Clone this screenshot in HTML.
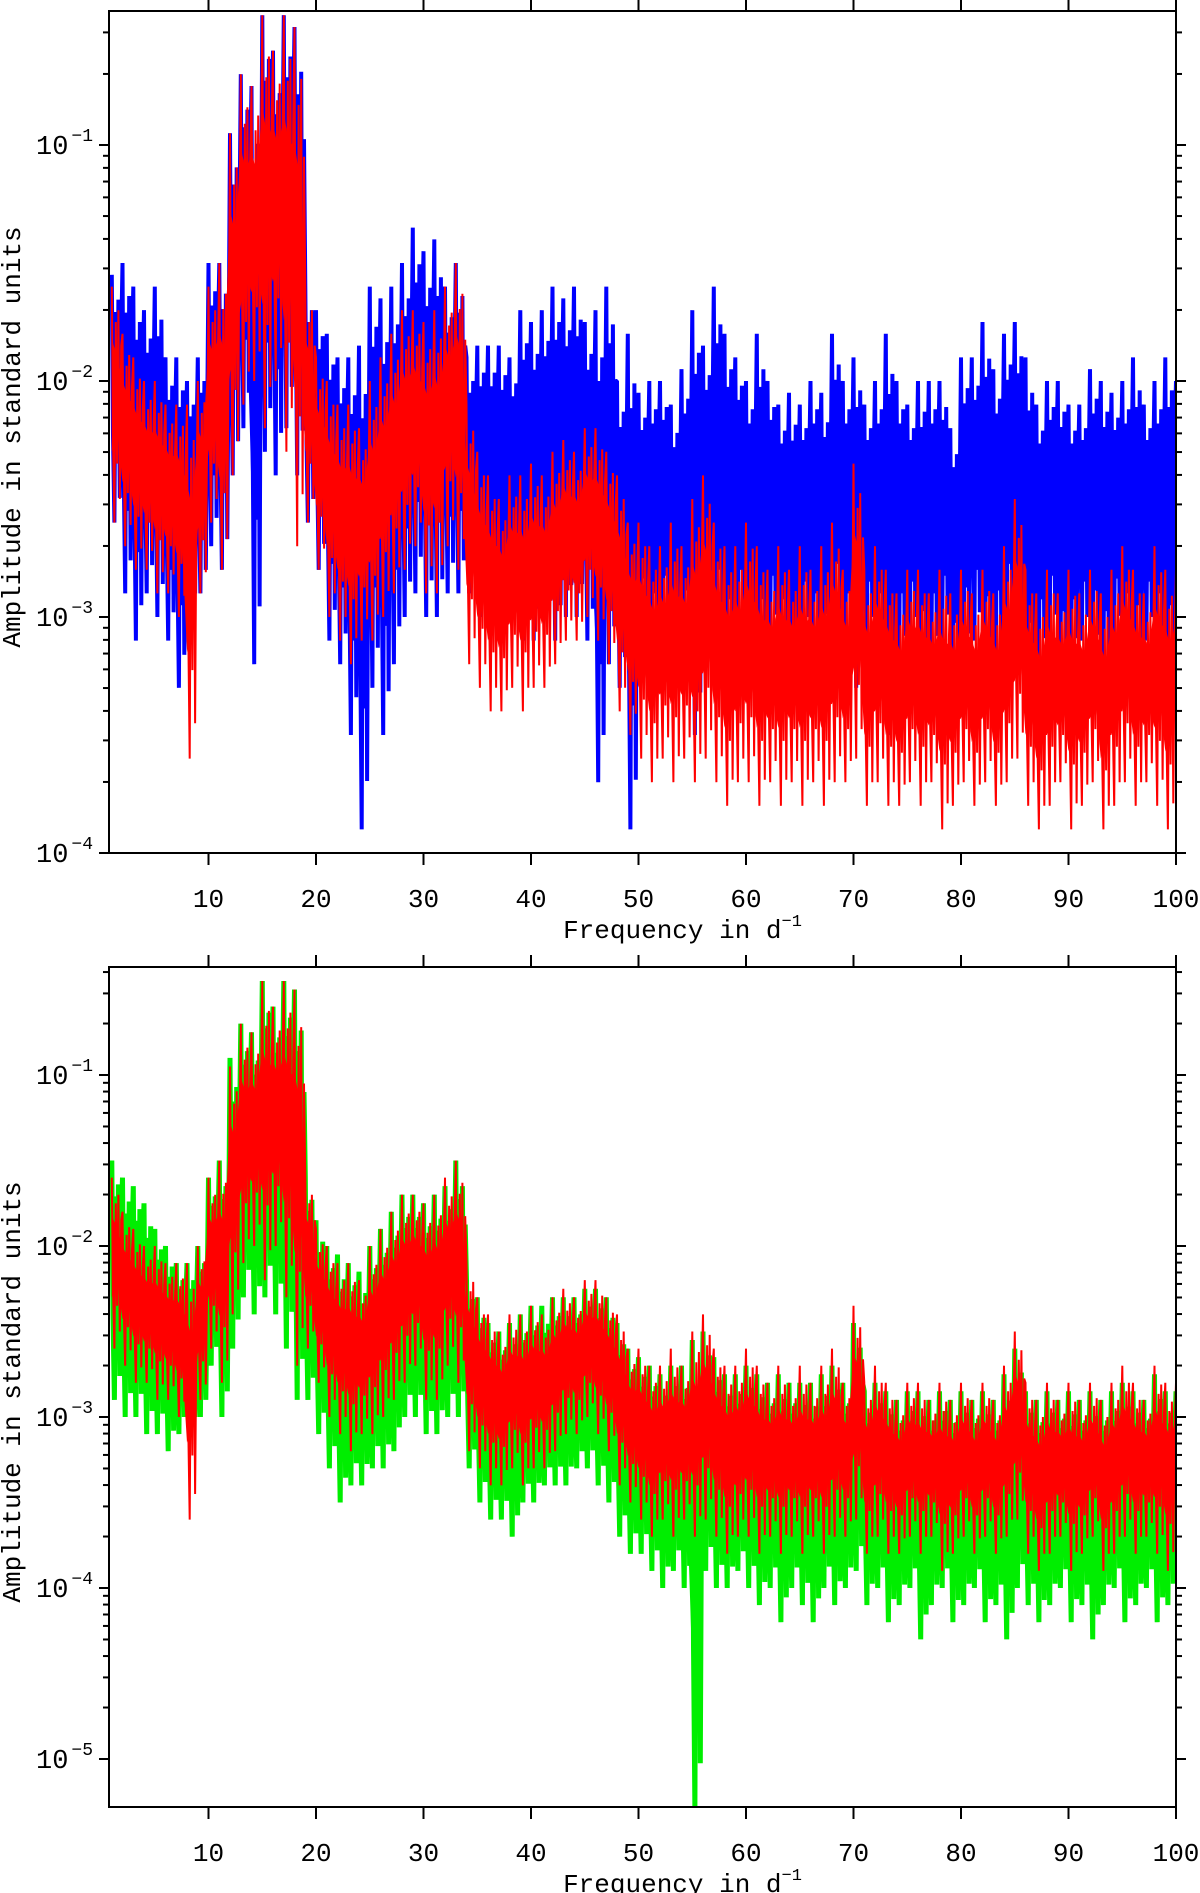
<!DOCTYPE html>
<html><head><meta charset="utf-8"><style>
html,body{margin:0;padding:0;background:#fff;}
svg{display:block;}
text{font-family:"Liberation Mono","DejaVu Sans Mono",monospace;fill:#000;}
</style></head>
<body>
<svg id="chart" width="1200" height="1893" viewBox="0 0 1200 1893" xmlns="http://www.w3.org/2000/svg">
<defs>
<clipPath id="clipTop"><rect x="109" y="11" width="1067" height="842"/></clipPath>
<clipPath id="clipBot"><rect x="109" y="967" width="1067" height="840"/></clipPath>
</defs>
</svg>
<script>
// frequencies 1..100 (d^-1), values as log10(amplitude)
const freqs = Array.from({length:100},(_,i)=>i+1);
const xTicks = [10,20,30,40,50,60,70,80,90,100];
const topDecades = [-1,-2,-3,-4];
const botDecades = [-1,-2,-3,-4,-5];

const redHi = [
-1.6,-1.8,-1.9,-2.0,-2.0,-2.1,-2.1,-2.1,-2.0,-1.6,
-1.5,-0.95,-0.7,-0.75,-0.45,-0.6,-0.45,-0.5,-1.6,-1.9,
-2.0,-2.1,-2.1,-2.2,-2.0,-1.9,-1.8,-1.7,-1.7,-1.75,
-1.7,-1.6,-1.5,-2.1,-2.3,-2.4,-2.5,-2.4,-2.4,-2.35,
-2.4,-2.3,-2.25,-2.3,-2.2,-2.2,-2.3,-2.4,-2.6,-2.6,
-2.7,-2.7,-2.6,-2.7,-2.5,-2.4,-2.6,-2.7,-2.7,-2.6,
-2.7,-2.8,-2.7,-2.8,-2.7,-2.8,-2.7,-2.6,-2.8,-2.35,
-2.8,-2.7,-2.8,-2.9,-2.8,-2.8,-2.9,-2.8,-2.9,-2.8,
-2.9,-2.8,-2.9,-2.7,-2.5,-2.8,-2.9,-2.8,-2.9,-2.8,
-2.9,-2.8,-2.9,-2.8,-2.7,-2.8,-2.9,-2.7,-2.8,-2.8];
const redLo = [
-2.6,-2.7,-2.8,-2.8,-2.9,-2.9,-3.0,-3.6,-2.9,-2.6,
-2.8,-2.4,-2.1,-2.0,-2.2,-2.0,-2.3,-2.7,-2.6,-2.8,
-3.0,-3.1,-3.2,-3.1,-3.1,-3.0,-2.9,-2.8,-2.7,-2.9,
-2.9,-2.7,-2.8,-3.2,-3.3,-3.4,-3.4,-3.3,-3.4,-3.3,
-3.3,-3.2,-3.1,-3.1,-3.0,-3.1,-3.2,-3.4,-3.5,-3.6,
-3.7,-3.6,-3.7,-3.6,-3.7,-3.6,-3.7,-3.8,-3.7,-3.7,
-3.8,-3.7,-3.8,-3.7,-3.8,-3.7,-3.8,-3.7,-3.7,-3.6,
-3.8,-3.7,-3.8,-3.8,-3.7,-3.8,-3.7,-3.9,-3.8,-3.7,
-3.8,-3.7,-3.8,-3.7,-3.6,-3.8,-3.9,-3.8,-3.7,-3.9,
-3.8,-3.7,-3.9,-3.8,-3.7,-3.8,-3.7,-3.8,-3.9,-3.7];
const blueHi = [
-1.55,-1.5,-1.6,-1.7,-1.6,-1.9,-1.9,-2.0,-1.9,-1.5,
-1.5,-0.95,-0.7,-0.75,-0.45,-0.6,-0.45,-0.5,-1.6,-1.7,
-1.8,-1.9,-1.9,-1.85,-1.6,-1.65,-1.6,-1.5,-1.35,-1.45,
-1.4,-1.6,-1.5,-1.9,-1.85,-1.85,-1.85,-1.9,-1.7,-1.75,
-1.7,-1.6,-1.65,-1.6,-1.75,-1.7,-1.6,-2.0,-1.8,-2.05,
-2.0,-2.0,-2.1,-1.95,-1.7,-1.85,-1.6,-1.8,-1.9,-2.0,
-1.8,-2.0,-2.1,-2.05,-2.1,-2.0,-2.05,-1.8,-2.0,-1.9,
-2.1,-2.0,-1.8,-2.0,-2.1,-2.0,-2.0,-2.0,-2.2,-1.9,
-1.9,-1.75,-1.95,-1.8,-1.75,-1.9,-2.1,-2.0,-2.0,-2.1,
-2.1,-1.95,-2.0,-2.05,-2.0,-1.9,-2.1,-2.0,-1.9,-2.0];
const blueLo = [
-2.6,-2.9,-3.1,-2.9,-3.0,-3.1,-3.3,-3.0,-2.9,-2.7,
-2.8,-2.4,-2.2,-3.2,-2.3,-2.4,-2.2,-2.4,-2.6,-2.8,
-3.1,-3.2,-3.5,-3.9,-3.3,-3.5,-3.2,-3.0,-2.9,-3.0,
-3.0,-2.9,-2.9,-2.9,-3.0,-3.0,-3.1,-3.0,-3.1,-3.1,
-3.0,-3.1,-3.0,-3.0,-3.1,-3.7,-3.2,-3.3,-3.9,-3.1,
-3.2,-3.1,-3.3,-3.2,-3.5,-3.1,-3.2,-3.3,-3.1,-3.2,
-3.3,-3.1,-3.2,-3.4,-3.1,-3.2,-3.3,-3.1,-3.2,-3.3,
-3.1,-3.2,-3.5,-3.2,-3.1,-3.3,-3.2,-3.1,-3.3,-3.2,
-3.1,-3.3,-3.2,-3.1,-3.2,-3.4,-3.2,-3.1,-3.3,-3.2,
-3.1,-3.2,-3.3,-3.1,-3.2,-3.3,-3.1,-3.2,-3.3,-3.2];
const greenHi = [
-1.5,-1.6,-1.65,-1.75,-1.9,-2.0,-2.1,-2.1,-2.0,-1.6,
-1.5,-0.9,-0.7,-0.75,-0.45,-0.6,-0.45,-0.5,-1.6,-1.85,
-2.0,-2.05,-2.1,-2.15,-2.0,-1.9,-1.8,-1.7,-1.7,-1.75,
-1.7,-1.65,-1.5,-2.2,-2.3,-2.45,-2.5,-2.45,-2.4,-2.35,
-2.35,-2.3,-2.3,-2.3,-2.25,-2.25,-2.3,-2.45,-2.6,-2.65,
-2.7,-2.75,-2.7,-2.7,-2.55,-2.5,-2.65,-2.75,-2.75,-2.7,
-2.75,-2.8,-2.75,-2.8,-2.8,-2.8,-2.75,-2.7,-2.8,-2.45,
-2.85,-2.8,-2.85,-2.9,-2.85,-2.85,-2.9,-2.85,-2.9,-2.85,
-2.9,-2.85,-2.9,-2.75,-2.6,-2.85,-2.9,-2.85,-2.9,-2.85,
-2.9,-2.85,-2.9,-2.85,-2.8,-2.85,-2.9,-2.75,-2.85,-2.85];
const greenLo = [
-2.9,-3.0,-3.0,-3.1,-3.1,-3.2,-3.1,-3.1,-3.0,-2.7,
-3.0,-2.6,-2.3,-2.4,-2.3,-2.4,-2.6,-2.9,-2.9,-3.1,
-3.3,-3.5,-3.4,-3.4,-3.3,-3.3,-3.2,-3.0,-3.0,-3.1,
-3.1,-3.0,-3.0,-3.3,-3.5,-3.6,-3.6,-3.7,-3.5,-3.5,
-3.4,-3.4,-3.4,-3.3,-3.3,-3.4,-3.5,-3.7,-3.8,-3.8,
-3.9,-4.0,-3.9,-4.0,-5.3,-3.9,-4.0,-4.0,-3.9,-4.0,
-4.1,-4.0,-4.2,-4.0,-4.1,-4.2,-4.0,-4.1,-4.0,-3.9,
-4.1,-4.0,-4.2,-4.1,-4.0,-4.3,-4.1,-4.0,-4.2,-4.1,
-4.0,-4.2,-4.1,-4.3,-4.0,-4.1,-4.2,-4.1,-4.0,-4.2,
-4.1,-4.3,-4.1,-4.0,-4.2,-4.1,-4.0,-4.2,-4.1,-4.0];

const NS = "http://www.w3.org/2000/svg";
const svg = document.getElementById('chart');
const X0 = 109, X1 = 1176, FMAX = 100, PXF = 10.75;
function xs(f){ return X1 - (FMAX - f) * PXF; }
const panels = [
  {name:'top', yTop:11, yBot:853, y01:145, dec:236, decades:topDecades, clip:'clipTop',
   series:[{name:'blue',hi:blueHi,lo:blueLo,color:'#0000ff',w:4},{name:'red',hi:redHi,lo:redLo,color:'#ff0000',w:2}]},
  {name:'bottom', yTop:967, yBot:1807, y01:1075, dec:171, decades:botDecades, clip:'clipBot',
   series:[{name:'green',hi:greenHi,lo:greenLo,color:'#00ee00',w:5},{name:'red',hi:redHi,lo:redLo,color:'#ff0000',w:2}]}
];
function mk(tag, attrs, parent){
  const e = document.createElementNS(NS, tag);
  for (const k in attrs) e.setAttribute(k, attrs[k]);
  (parent||svg).appendChild(e);
  return e;
}
panels.forEach(p=>{
  const ys = v => p.y01 + (-1 - v) * p.dec;
  const g = mk('g', {});
  
  
  const plot = mk('g', {'clip-path':'url(#'+p.clip+')'}, g);
  
  
  p.series.forEach(s=>{
    // dense core band
    let pts = [];
    freqs.forEach((f,i)=>{
      const span = s.hi[i]-s.lo[i];
      pts.push(xs(f).toFixed(1)+','+ys(s.hi[i]-0.22*span).toFixed(1));
      pts.push(xs(f+0.5).toFixed(1)+','+ys(s.hi[i]-0.3*span).toFixed(1));
    });
    for (let i=freqs.length-1;i>=0;i--){
      const span = freqs.length && (s.hi[i]-s.lo[i]);
      pts.push(xs(freqs[i]+0.5).toFixed(1)+','+ys(s.lo[i]+0.4*span).toFixed(1));
      pts.push(xs(freqs[i]).toFixed(1)+','+ys(s.lo[i]+0.3*span).toFixed(1));
    }
    const band = mk('polygon', {points:pts.join(' '), fill:s.color}, plot);
    
    
    // spiky line reaching full extremes
    let zz = [];
    freqs.forEach((f,i)=>{
      const span = s.hi[i]-s.lo[i];
      zz.push(xs(f).toFixed(1)+','+ys(s.hi[i]).toFixed(1));
      zz.push(xs(f+0.12).toFixed(1)+','+ys(s.lo[i]+0.35*span).toFixed(1));
      zz.push(xs(f+0.25).toFixed(1)+','+ys(s.lo[i]).toFixed(1));
      zz.push(xs(f+0.38).toFixed(1)+','+ys(s.hi[i]-0.15*span).toFixed(1));
      zz.push(xs(f+0.5).toFixed(1)+','+ys(s.lo[i]+0.25*span).toFixed(1));
      zz.push(xs(f+0.62).toFixed(1)+','+ys(s.hi[i]-0.1*span).toFixed(1));
      zz.push(xs(f+0.75).toFixed(1)+','+ys(s.lo[i]+0.1*span).toFixed(1));
      zz.push(xs(f+0.88).toFixed(1)+','+ys(s.hi[i]-0.25*span).toFixed(1));
    });
    const line = mk('polyline', {points:zz.join(' '), fill:'none', stroke:s.color, 'stroke-width':s.w, 'stroke-linejoin':'bevel'}, plot);
    
    
  });
  // frame
  const frame = mk('rect', {x:X0, y:p.yTop, width:X1-X0, height:p.yBot-p.yTop, fill:'none', stroke:'#000', 'stroke-width':2}, g);
  
  
  // x ticks
  xTicks.forEach(t=>{
    const x = xs(t);
    const tb = mk('line', {x1:x, x2:x, y1:p.yBot, y2:p.yBot+12, stroke:'#000', 'stroke-width':2}, g);
    
    
    const tt = mk('line', {x1:x, x2:x, y1:p.yTop, y2:p.yTop-12, stroke:'#000', 'stroke-width':2}, g);
    
    
    const lb = mk('text', {x:x, y:p.yBot+54, 'text-anchor':'middle', 'font-size':26}, g);
    lb.textContent = t;
    
    
  });
  // y ticks
  p.decades.forEach(d=>{
    for (let m=1;m<=9;m++){
      const v = d + Math.log10(m);
      const y = ys(v);
      if (y < p.yTop-0.5 || y > p.yBot+0.5) continue;
      const len = m===1 ? 10 : 6;
      const tl = mk('line', {x1:X0, x2:X0-len, y1:y, y2:y, stroke:'#000', 'stroke-width':2}, g);
      
      
      const tr = mk('line', {x1:X1, x2:X1+len, y1:y, y2:y, stroke:'#000', 'stroke-width':2}, g);
      
      
    }
    const y = ys(d);
    const lb = mk('text', {x:36, y:y+9, 'font-size':27}, g);
    
    
    const base = document.createElementNS(NS,'tspan'); base.textContent = '10'; lb.appendChild(base);
    const sup = document.createElementNS(NS,'tspan');
    sup.setAttribute('font-size','18'); sup.setAttribute('dy','-13'); sup.setAttribute('dx','3');
    sup.textContent = '\u2212' + (-d);
    lb.appendChild(sup);
  });
  // titles
  const xt = mk('text', {x:(X0+X1)/2+40, y:p.yBot+85, 'text-anchor':'middle', 'font-size':26}, g);
  
  
  xt.appendChild(document.createTextNode('Frequency in d'));
  const s1 = document.createElementNS(NS,'tspan'); s1.setAttribute('font-size','17'); s1.setAttribute('dy','-12'); s1.textContent='\u22121'; xt.appendChild(s1);
  const cy = (p.yTop+p.yBot)/2 + 5;
  const yt = mk('text', {x:20, y:cy, 'text-anchor':'middle', 'font-size':26, transform:'rotate(-90 20 '+cy+')'}, g);
  yt.textContent = 'Amplitude in standard units';
  
  
});
</script>
</body></html>
